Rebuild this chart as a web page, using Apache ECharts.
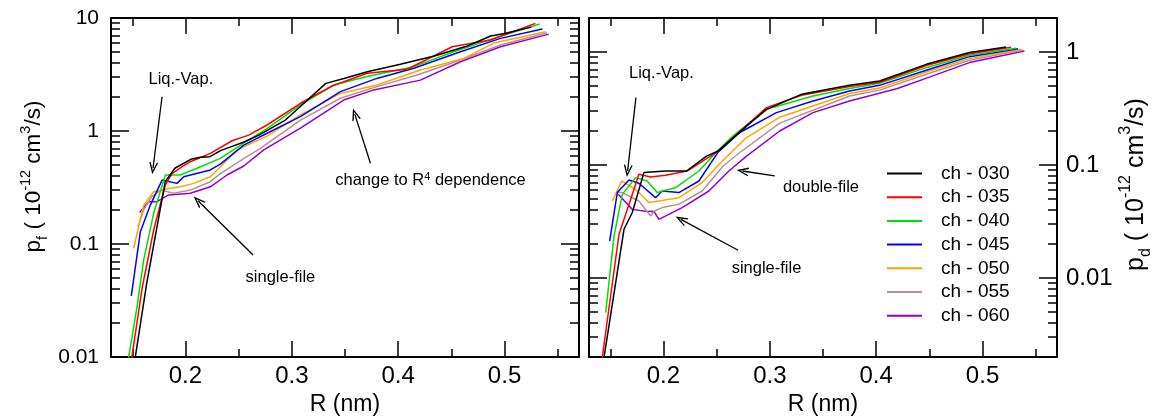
<!DOCTYPE html>
<html><head><meta charset="utf-8">
<script src="https://cdn.jsdelivr.net/npm/echarts@6/dist/echarts.min.js"></script>
<style>html,body{margin:0;padding:0;background:#fff}#c{width:1158px;height:417px}</style>
</head><body><div id="c"></div>
<script>
// ---------- data ----------
const seriesNames = ['ch - 030','ch - 035','ch - 040','ch - 045','ch - 050','ch - 055','ch - 060'];

const xMajorTicks = [0.2, 0.3, 0.4, 0.5];
const xMinorTicks = [0.15, 0.25, 0.35, 0.45, 0.55];
const pfMajorTicks = [0.01, 0.1, 1, 10];
const pfMinorTicks = [0.02,0.03,0.04,0.05,0.06,0.07,0.08,0.09,0.2,0.3,0.4,0.5,0.6,0.7,0.8,0.9,2,3,4,5,6,7,8,9];
const pdMajorTicks = [0.01, 0.1, 1];
const pdMinorTicks = [0.003,0.004,0.005,0.006,0.007,0.008,0.009,0.02,0.03,0.04,0.05,0.06,0.07,0.08,0.09,0.2,0.3,0.4,0.5,0.6,0.7,0.8,0.9];

// p_f (left panel): [R (nm), p_f]
const pf030 = [[0.150,0.0067],[0.1636,0.045],[0.181,0.356],[0.190,0.468],[0.205,0.562],[0.214,0.585],[0.223,0.593],[0.233,0.67],[0.255,0.80],[0.269,0.92],[0.294,1.25],[0.332,2.64],[0.349,2.92],[0.371,3.35],[0.402,3.89],[0.434,4.61],[0.465,5.65],[0.487,6.93],[0.500,7.3],[0.525,8.3]];
const pf035 = [[0.147,0.0068],[0.1592,0.0405],[0.1701,0.133],[0.1811,0.333],[0.1874,0.42],[0.1968,0.483],[0.2046,0.535],[0.2234,0.634],[0.2438,0.82],[0.2594,0.92],[0.2767,1.13],[0.3081,1.76],[0.3379,2.50],[0.3708,3.24],[0.4085,3.52],[0.4508,5.57],[0.4868,6.38],[0.529,8.97]];
const pf040 = [[0.145,0.0081],[0.1545,0.0279],[0.1607,0.072],[0.1701,0.187],[0.1811,0.408],[0.1952,0.408],[0.2109,0.468],[0.2328,0.573],[0.2548,0.78],[0.2767,1.05],[0.3081,1.70],[0.3394,2.55],[0.3708,3.03],[0.4147,3.71],[0.4523,5.03],[0.4899,6.6],[0.533,8.85]];
const pf045 = [[0.1491,0.0347],[0.1576,0.1285],[0.167,0.221],[0.178,0.368],[0.1921,0.344],[0.1983,0.394],[0.2234,0.452],[0.2328,0.51],[0.2548,0.75],[0.2767,0.955],[0.3081,1.34],[0.3457,2.23],[0.380,2.92],[0.4147,3.59],[0.4586,5.03],[0.4962,6.6],[0.5355,8.0]];
const pf050 = [[0.1513,0.0916],[0.1607,0.221],[0.1701,0.29],[0.1858,0.311],[0.1952,0.321],[0.2077,0.344],[0.2234,0.394],[0.2328,0.483],[0.2485,0.68],[0.2767,0.90],[0.3081,1.39],[0.3457,2.15],[0.380,2.55],[0.4209,3.47],[0.4617,4.39],[0.4899,6.0],[0.5386,7.57]];
const pf055 = [[0.1554,0.142],[0.1607,0.20],[0.168,0.26],[0.1764,0.30],[0.1889,0.281],[0.2046,0.30],[0.2234,0.356],[0.2328,0.42],[0.2548,0.57],[0.2705,0.703],[0.3081,1.25],[0.3457,1.95],[0.380,2.47],[0.4179,3.13],[0.4586,4.25],[0.4962,5.77],[0.540,7.4]];
const pf060 = [[0.1569,0.19],[0.1654,0.237],[0.1733,0.237],[0.1842,0.272],[0.2046,0.281],[0.2234,0.321],[0.2391,0.408],[0.2548,0.49],[0.2736,0.68],[0.3081,1.06],[0.3488,1.88],[0.377,2.31],[0.4209,2.82],[0.4586,4.1],[0.4962,5.57],[0.5417,7.2]];

// p_d (right panel): [R (nm), p_d]
const pd030 = [[0.143,0.0017],[0.1629,0.027],[0.1707,0.038],[0.1816,0.0857],[0.202,0.0885],[0.2217,0.0885],[0.2405,0.12],[0.2514,0.133],[0.2781,0.221],[0.2969,0.311],[0.3297,0.422],[0.375,0.507],[0.4032,0.554],[0.4471,0.778],[0.4877,0.99],[0.5222,1.107]];
const pd035 = [[0.1415,0.0017],[0.1582,0.0244],[0.1692,0.0497],[0.1769,0.0828],[0.1879,0.0783],[0.202,0.081],[0.2223,0.0885],[0.2514,0.133],[0.2969,0.322],[0.3297,0.415],[0.375,0.494],[0.4032,0.54],[0.4471,0.76],[0.4877,0.965],[0.5269,1.1]];
const pd040 = [[0.1457,0.00494],[0.1535,0.0235],[0.1613,0.055],[0.1738,0.0773],[0.1847,0.0722],[0.1941,0.057],[0.1988,0.0589],[0.2114,0.063],[0.2333,0.0885],[0.2514,0.135],[0.2655,0.181],[0.2969,0.311],[0.3406,0.408],[0.375,0.475],[0.4032,0.53],[0.4471,0.727],[0.4877,0.935],[0.5316,1.08]];
const pd045 = [[0.1494,0.0212],[0.1566,0.057],[0.1676,0.0736],[0.1769,0.0689],[0.1926,0.0514],[0.1988,0.0589],[0.2145,0.057],[0.2333,0.0722],[0.2514,0.13],[0.2718,0.194],[0.3062,0.291],[0.3406,0.369],[0.375,0.452],[0.4032,0.507],[0.4471,0.689],[0.4877,0.91],[0.5333,1.07]];
const pd050 = [[0.1519,0.048],[0.1607,0.0722],[0.1738,0.061],[0.1863,0.0465],[0.1957,0.048],[0.2145,0.0514],[0.2364,0.0699],[0.2552,0.108],[0.2781,0.175],[0.3093,0.265],[0.375,0.429],[0.4032,0.48],[0.4471,0.665],[0.4877,0.874],[0.5363,1.06]];
const pd055 = [[0.1566,0.057],[0.161,0.057],[0.1769,0.048],[0.1879,0.0354],[0.191,0.039],[0.1988,0.042],[0.2145,0.0449],[0.2364,0.0589],[0.2561,0.098],[0.2718,0.129],[0.3093,0.235],[0.375,0.408],[0.4032,0.46],[0.4471,0.635],[0.4877,0.845],[0.538,1.04]];
const pd060 = [[0.1575,0.055],[0.1707,0.0405],[0.1847,0.0387],[0.191,0.039],[0.1957,0.033],[0.2176,0.042],[0.2427,0.0589],[0.2615,0.0885],[0.2781,0.12],[0.3093,0.20],[0.3406,0.291],[0.375,0.368],[0.42,0.475],[0.45,0.60],[0.4877,0.806],[0.5394,1.02]];

// annotations: [text, R, value] and arrows [R0, v0, R1, v1] (tail -> head), in data units
const pfNotes = [['Liq.-Vap.', 0.1957, 2.88], ['change to R{sup|4} dependence', 0.4304, 0.368], ['single-file', 0.2893, 0.051]];
const pfArrows = [[0.178, 2.01, 0.1695, 0.468], [0.3739, 0.518, 0.3592, 1.41], [0.2636, 0.080, 0.2118, 0.2415]];
const pdNotes = [['Liq.-Vap.', 0.1981, 0.648], ['double-file', 0.3481, 0.0628], ['single-file', 0.2969, 0.0122]];
const pdArrows = [[0.1741, 0.395, 0.1663, 0.0885], [0.3046, 0.080, 0.2743, 0.0885], [0.2702, 0.0176, 0.2164, 0.033]];

// ---------- styles ----------
const colors = ['#000000','#ff0000','#00e000','#0000ff','#ffa500','#bc8f8f','#9400d3'];
const FONT = '"Liberation Sans", Arial, Helvetica, sans-serif';
const pfData = [pf030, pf035, pf040, pf045, pf050, pf055, pf060];
const pdData = [pd030, pd035, pd040, pd045, pd050, pd055, pd060];

const GRID_L = {left: 111, top: 18, width: 468, height: 339};
const GRID_R = {left: 589, top: 18, width: 468, height: 339};

function xAxis(grid, pos, ticks, len, opts) {
  return Object.assign({
    type: 'value', gridIndex: grid, position: pos, min: 0.13, max: 0.57,
    axisLine: {show: true, onZero: false, lineStyle: {color: '#000', width: 2}},
    axisTick: {show: true, inside: true, length: len, customValues: ticks, lineStyle: {color: '#000', width: 1.5}},
    axisLabel: {show: false},
    splitLine: {show: false}
  }, opts || {});
}
function yAxis(grid, pos, min, max, ticks, len, opts) {
  return Object.assign({
    type: 'log', logBase: 10, gridIndex: grid, position: pos, min: min, max: max,
    axisLine: {show: true, onZero: false, lineStyle: {color: '#000', width: 2}},
    axisTick: {show: true, inside: true, length: len, customValues: ticks, lineStyle: {color: '#000', width: 1.5}},
    axisLabel: {show: false},
    splitLine: {show: false}, minorSplitLine: {show: false}
  }, opts || {});
}
const xLabel = {show: true, customValues: xMajorTicks, margin: 7, fontSize: 24, color: '#000', fontFamily: FONT,
  formatter: v => v.toFixed(1)};
const xName = {name: 'R (nm)', nameLocation: 'middle', nameGap: 35,
  nameTextStyle: {fontSize: 23, color: '#000', fontFamily: FONT}};
function richName(base, small, lh) {
  return {
    b: {fontSize: base, lineHeight: lh, fontFamily: FONT, color: '#000'},
    sub: {fontSize: small, lineHeight: small + 3, verticalAlign: 'bottom', fontFamily: FONT, color: '#000'},
    sup: {fontSize: small, lineHeight: small + 3, verticalAlign: 'top', fontFamily: FONT, color: '#000'}
  };
}
function yName(sub, base, small, lh, shift, gap) {
  return {name: '{b|p}{sub|' + sub + '}{b| ( 10}{sup|-12}{b| cm}{sup|3}{b|/s)}', nameLocation: 'middle',
    nameRotate: 90, nameGap: gap, nameTextStyle: {padding: [0, 0, 0, shift], rich: richName(base, small, lh)}};
}
const logFmt = v => String(+v.toPrecision(3));

const xAxes = [
  xAxis(0, 'bottom', xMajorTicks, 16, Object.assign({axisLabel: xLabel}, xName)),
  xAxis(0, 'top', xMajorTicks, 16),
  xAxis(1, 'bottom', xMinorTicks, 8, {axisLine: {show: false}}),
  xAxis(1, 'top', xMinorTicks, 8, {axisLine: {show: false}}),
  xAxis(2, 'bottom', xMajorTicks, 16, Object.assign({axisLabel: xLabel}, xName)),
  xAxis(2, 'top', xMajorTicks, 16),
  xAxis(3, 'bottom', xMinorTicks, 8, {axisLine: {show: false}}),
  xAxis(3, 'top', xMinorTicks, 8, {axisLine: {show: false}})
];
const yAxes = [
  yAxis(0, 'left', 0.01, 10, pfMajorTicks, 18, Object.assign({
    axisLabel: {show: true, customValues: pfMajorTicks, margin: 12, fontSize: 21, color: '#000', fontFamily: FONT, formatter: logFmt}
  }, yName('f', 22.5, 14.5, 32, 22, 61))),
  yAxis(0, 'right', 0.01, 10, pfMajorTicks, 18),
  yAxis(1, 'left', 0.01, 10, pfMinorTicks, 9, {axisLine: {show: false}}),
  yAxis(1, 'right', 0.01, 10, pfMinorTicks, 9, {axisLine: {show: false}}),
  yAxis(2, 'left', 0.002, 2, pdMajorTicks, 18),
  yAxis(2, 'right', 0.002, 2, pdMajorTicks, 18, Object.assign({
    axisLabel: {show: true, customValues: pdMajorTicks, margin: 9, fontSize: 24, color: '#000', fontFamily: FONT, formatter: logFmt}
  }, yName('d', 25, 16, 36, 6, 61))),
  yAxis(3, 'left', 0.002, 2, pdMinorTicks, 9, {axisLine: {show: false}}),
  yAxis(3, 'right', 0.002, 2, pdMinorTicks, 9, {axisLine: {show: false}})
];

const series = [];
seriesNames.forEach((n, i) => {
  series.push({name: n, type: 'line', xAxisIndex: 0, yAxisIndex: 0, data: pfData[i], showSymbol: false, symbol: 'none',
    clip: true, lineStyle: {color: colors[i], width: 1.5}, itemStyle: {color: colors[i]}, z: 10 - i});
  series.push({name: n, type: 'line', xAxisIndex: 4, yAxisIndex: 4, data: pdData[i], showSymbol: false, symbol: 'none',
    clip: true, lineStyle: {color: colors[i], width: 1.5}, itemStyle: {color: colors[i]}, z: 10 - i});
});

const chevron = 'path://M0,10 L5,0 L10,10 L8.4,10 L5,3.2 L1.6,10 Z';
function annot(xi, yi, notes, arrows) {
  return {
    name: 'annot' + xi, type: 'scatter', xAxisIndex: xi, yAxisIndex: yi, symbolSize: 0,
    itemStyle: {color: '#000'}, silent: true, z: 20,
    data: notes.map(n => ({name: n[0], value: [n[1], n[2]]})),
    label: {show: true, position: 'inside', formatter: '{b}', fontSize: 16.5, color: '#000', opacity: 1,
      textBorderWidth: 0, fontFamily: FONT,
      rich: {sup: {fontSize: 11, verticalAlign: 'top', lineHeight: 12, fontFamily: FONT, color: '#000'}}},
    markLine: {silent: true, animation: false, symbol: ['none', chevron], symbolSize: [9, 12],
      lineStyle: {color: '#000', width: 1.3, type: 'solid'}, label: {show: false},
      data: arrows.map(a => [{coord: [a[0], a[1]]}, {coord: [a[2], a[3]]}])}
  };
}
series.push(annot(0, 0, pfNotes, pfArrows));
series.push(annot(4, 4, pdNotes, pdArrows));

const option = {
  animation: false,
  backgroundColor: '#fff',
  grid: [GRID_L, GRID_L, GRID_R, GRID_R].map(g => Object.assign({containLabel: false, outerBoundsMode: 'none'}, g)),
  xAxis: xAxes,
  yAxis: yAxes,
  legend: {
    data: seriesNames, orient: 'vertical', left: 882, top: 159, icon: 'rect', itemWidth: 35, itemHeight: 2,
    itemGap: 4.7, selectedMode: false,
    textStyle: {fontSize: 19, lineHeight: 18, padding: [0, 0, 0, 14], color: '#000', fontFamily: FONT}
  },
  series: series
};
const chart = echarts.init(document.getElementById('c'), null, {renderer: 'canvas'});
chart.setOption(option);
</script>
</body></html>
